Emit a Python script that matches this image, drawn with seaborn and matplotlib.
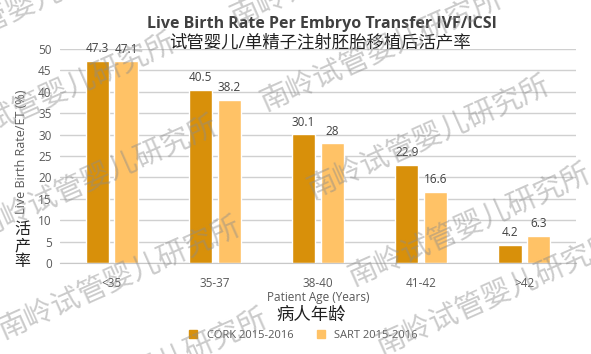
import numpy as np
import pandas as pd
import seaborn as sns
import matplotlib
matplotlib.use("Agg")
import matplotlib.pyplot as plt
from matplotlib.lines import Line2D

age_groups = ['<35', '35-37', '38-40', '41-42', '>42']
cork_rate = [47.3, 40.5, 30.1, 22.9, 4.2]
sart_rate = [47.1, 38.2, 28, 16.6, 6.3]
series_names = ['CORK 2015-2016', 'SART 2015-2016']
y_ticks = list(range(0, 55, 5))

watermark_text = '南岭试管婴儿研究所'
# start points (px from top-left) of the repeated watermark bands
watermark_x = [-85, -52, -10, 13, 40, 245, 275, 322, 363, 391]
watermark_y = [62, 149, 232, 333, 425, 20, 105, 192, 280, 349]

colors = {'CORK 2015-2016': '#D8900A', 'SART 2015-2016': '#FFC266'}
grey_text = '#595959'


def set_style():
    sns.set_style("white", {'axes.spines.top': False, 'axes.spines.right': False})
    plt.rcParams['font.family'] = ['Open Sans', 'Noto Sans CJK SC', 'DejaVu Sans']


def make_chart():
    set_style()
    df = pd.DataFrame({
        'age': age_groups * 2,
        'rate': cork_rate + sart_rate,
        'series': [series_names[0]] * len(age_groups) + [series_names[1]] * len(age_groups),
    })

    W, H = 591, 354
    fig = plt.figure(figsize=(W / 100, H / 100), dpi=100)
    ax = fig.add_axes([60 / W, 1 - 263 / H, (576 - 60) / W, (263 - 49) / H])

    sns.barplot(data=df, x='age', y='rate', hue='series', palette=colors,
                order=age_groups, hue_order=series_names, width=0.56, gap=0.2,
                ax=ax, legend=False, saturation=1)

    for cont in ax.containers:
        ax.bar_label(cont, fmt='{:g}', padding=4, fontsize=8.5, color='#404040')

    ax.set_ylim(0, 50)
    ax.set_yticks(y_ticks)
    ax.set_xlim(-0.5, len(age_groups) - 0.5)
    ax.grid(axis='y', color='#d0d0d0', linewidth=1)
    ax.set_axisbelow(True)
    sns.despine(ax=ax, left=True)
    ax.spines['bottom'].set_color('#c8c8c8')
    ax.tick_params(axis='both', length=0, labelsize=8.5, labelcolor=grey_text, pad=6)
    ax.tick_params(axis='x', pad=10)
    ax.set_xlabel('')
    ax.set_ylabel('')

    # titles
    fig.text(322 / W, 1 - 24 / H, 'Live Birth Rate Per Embryo Transfer IVF/ICSI',
             ha='center', va='center', fontsize=11.5, fontweight='bold', color='#404040')
    fig.text(320 / W, 1 - 43 / H, '试管婴儿/单精子注射胚胎移植后活产率',
             ha='center', va='center', fontsize=12.5, color='#202020')

    # axis labels
    fig.text(22 / W, 1 - 152 / H, 'Live Birth Rate/ET (%)', rotation=90,
             ha='center', va='center', fontsize=9, color=grey_text)
    fig.text(22 / W, 1 - 246 / H, '活\n产\n率', ha='center', va='center',
             fontsize=11.5, color='#202020', linespacing=1.0)
    fig.text(318 / W, 1 - 297 / H, 'Patient Age (Years)', ha='center', va='center',
             fontsize=8.5, color=grey_text)
    fig.text(311 / W, 1 - 316 / H, '病人年龄', ha='center', va='center',
             fontsize=12.5, color='#202020')

    handles = [Line2D([], [], marker='s', linestyle='', markersize=6,
                      color=colors[s], label=s) for s in series_names]
    fig.legend(handles=handles, loc='center', bbox_to_anchor=(300 / W, 1 - 335 / H),
               ncol=2, frameon=False, fontsize=8, handletextpad=0.2,
               columnspacing=1.5, labelcolor=grey_text)

    # diagonal watermark
    for x, y in zip(watermark_x, watermark_y):
        fig.text((x - 13) / W, 1 - y / H, watermark_text, rotation=24,
                 rotation_mode='anchor', ha='left', va='center', fontsize=21,
                 color='#8c8c8c', alpha=0.45, zorder=10)

    fig.savefig('out.png', dpi=100)


if __name__ == "__main__":
    make_chart()
